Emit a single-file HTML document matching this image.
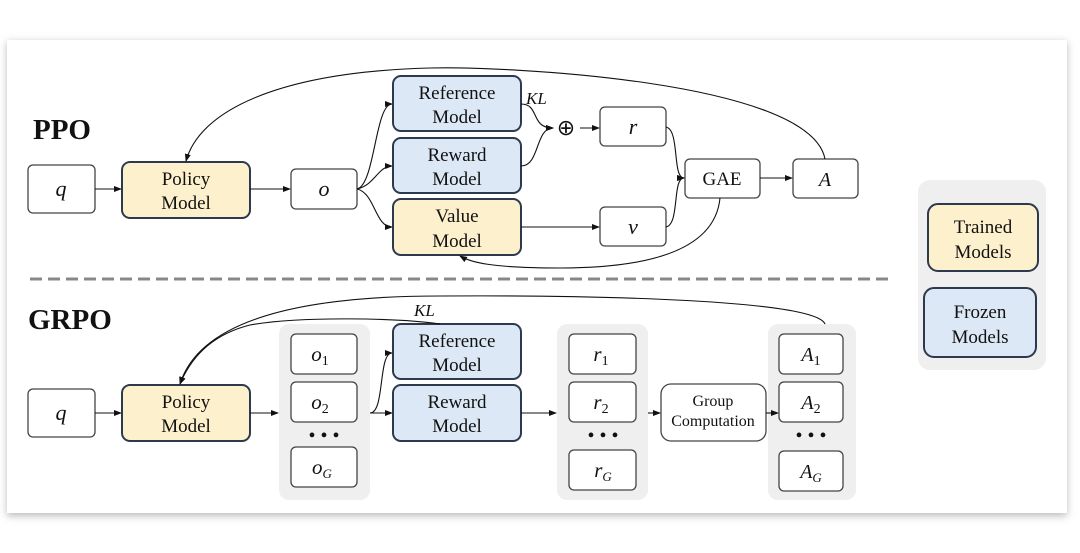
<!DOCTYPE html>
<html><head><meta charset="utf-8"><style>
html,body{margin:0;padding:0;background:#fff;width:1080px;height:553px;overflow:hidden}
svg{display:block}
text{font-family:"Liberation Serif",serif;fill:#111}
.it{font-style:italic}
</style></head><body>
<svg width="1080" height="553" viewBox="0 0 1080 553" xmlns="http://www.w3.org/2000/svg">
<defs>
<filter id="sh" x="-5%" y="-10%" width="110%" height="125%"><feGaussianBlur stdDeviation="4"/></filter>
<marker id="ar" markerWidth="8" markerHeight="8" refX="7" refY="4" orient="auto" markerUnits="userSpaceOnUse"><path d="M0,1 L8,4 L0,7 z" fill="#111"/></marker>
</defs>
<rect x="7" y="42" width="1060" height="474" fill="#bbb" filter="url(#sh)"/>
<rect x="7" y="40" width="1060" height="473" fill="#fff"/>

<!-- PPO -->
<text x="33" y="139" font-size="29" font-weight="bold">PPO</text>
<g stroke="#444" stroke-width="1.3">
<rect x="28" y="165" width="67" height="48" rx="5" fill="#fff"/>
<rect x="122" y="162" width="128" height="56" rx="8" fill="#fdf0cc" stroke="#2d3a4d" stroke-width="2"/>
<rect x="291" y="169" width="66" height="40" rx="5" fill="#fff"/>
<rect x="393" y="76" width="128" height="55" rx="8" fill="#dce8f5" stroke="#2d3a4d" stroke-width="2"/>
<rect x="393" y="138" width="128" height="55" rx="8" fill="#dce8f5" stroke="#2d3a4d" stroke-width="2"/>
<rect x="393" y="199" width="128" height="56" rx="8" fill="#fdf0cc" stroke="#2d3a4d" stroke-width="2"/>
<rect x="600" y="107" width="66" height="39" rx="5" fill="#fff"/>
<rect x="600" y="207" width="66" height="39" rx="5" fill="#fff"/>
<rect x="685" y="159" width="75" height="39" rx="5" fill="#fff"/>
<rect x="793" y="159" width="65" height="39" rx="5" fill="#fff"/>
</g>
<text x="61" y="196" font-size="22" class="it" text-anchor="middle">q</text>
<text x="186" y="185" font-size="19" text-anchor="middle">Policy</text>
<text x="186" y="209" font-size="19" text-anchor="middle">Model</text>
<text x="324" y="196" font-size="22" class="it" text-anchor="middle">o</text>
<text x="457" y="99" font-size="19" text-anchor="middle">Reference</text>
<text x="457" y="123" font-size="19" text-anchor="middle">Model</text>
<text x="457" y="161" font-size="19" text-anchor="middle">Reward</text>
<text x="457" y="185" font-size="19" text-anchor="middle">Model</text>
<text x="457" y="222" font-size="19" text-anchor="middle">Value</text>
<text x="457" y="247" font-size="19" text-anchor="middle">Model</text>
<text x="526" y="104" font-size="17" class="it">KL</text>
<text x="566" y="135" font-size="22" text-anchor="middle">⊕</text>
<text x="633" y="134" font-size="22" class="it" text-anchor="middle">r</text>
<text x="633" y="234" font-size="22" class="it" text-anchor="middle">v</text>
<text x="722" y="185" font-size="19" text-anchor="middle">GAE</text>
<text x="825" y="186" font-size="20" class="it" text-anchor="middle">A</text>
<g fill="none" stroke="#111" stroke-width="1.1" marker-end="url(#ar)">
<path d="M95,189 H121"/>
<path d="M250,189 H290"/>
<path d="M357,189 C375,185 375,104 392,104"/>
<path d="M357,189 C375,185 378,166 392,166"/>
<path d="M357,189 C375,193 375,227 392,227"/>
<path d="M521,104 C540,104 530,128 553,128"/>
<path d="M521,166 C540,166 535,128 553,128"/>
<path d="M580,128 H599"/>
<path d="M521,227 H599"/>
<path d="M666,127 C680,130 672,178 684,178"/>
<path d="M666,227 C680,224 672,178 684,178"/>
<path d="M760,178 H792"/>
<path d="M825,159 C810,80 500,66 430,68 C280,72 200,110 186,161"/>
<path d="M720,198 C715,250 650,268 560,268 C490,268 470,262 460,256"/>
</g>

<!-- divider -->
<line x1="30" y1="279" x2="888" y2="279" stroke="#888" stroke-width="3" stroke-dasharray="12,6"/>

<!-- legend -->
<rect x="918" y="180" width="128" height="190" rx="12" fill="#efefef"/>
<rect x="928" y="204" width="110" height="67" rx="10" fill="#fdf0cc" stroke="#2d3a4d" stroke-width="2"/>
<rect x="924" y="288" width="112" height="69" rx="10" fill="#dce8f5" stroke="#2d3a4d" stroke-width="2"/>
<text x="983" y="233" font-size="19" text-anchor="middle">Trained</text>
<text x="983" y="258" font-size="19" text-anchor="middle">Models</text>
<text x="980" y="318" font-size="19" text-anchor="middle">Frozen</text>
<text x="980" y="343" font-size="19" text-anchor="middle">Models</text>

<!-- GRPO -->
<text x="28" y="329" font-size="29" font-weight="bold">GRPO</text>
<rect x="279" y="324" width="91" height="176" rx="10" fill="#efefef"/>
<rect x="557" y="324" width="91" height="176" rx="10" fill="#efefef"/>
<rect x="768" y="324" width="88" height="176" rx="10" fill="#efefef"/>
<g stroke="#444" stroke-width="1.3">
<rect x="28" y="389" width="67" height="48" rx="5" fill="#fff"/>
<rect x="122" y="385" width="128" height="56" rx="8" fill="#fdf0cc" stroke="#2d3a4d" stroke-width="2"/>
<rect x="291" y="334" width="66" height="40" rx="5" fill="#fff"/>
<rect x="291" y="382" width="66" height="40" rx="5" fill="#fff"/>
<rect x="291" y="447" width="66" height="40" rx="5" fill="#fff"/>
<rect x="393" y="324" width="128" height="55" rx="8" fill="#dce8f5" stroke="#2d3a4d" stroke-width="2"/>
<rect x="393" y="385" width="128" height="56" rx="8" fill="#dce8f5" stroke="#2d3a4d" stroke-width="2"/>
<rect x="569" y="334" width="67" height="40" rx="5" fill="#fff"/>
<rect x="569" y="382" width="67" height="40" rx="5" fill="#fff"/>
<rect x="569" y="450" width="67" height="40" rx="5" fill="#fff"/>
<rect x="661" y="384" width="105" height="57" rx="10" fill="#fff"/>
<rect x="779" y="334" width="64" height="40" rx="5" fill="#fff"/>
<rect x="779" y="382" width="64" height="40" rx="5" fill="#fff"/>
<rect x="779" y="451" width="64" height="40" rx="5" fill="#fff"/>
</g>
<text x="61" y="420" font-size="22" class="it" text-anchor="middle">q</text>
<text x="186" y="408" font-size="19" text-anchor="middle">Policy</text>
<text x="186" y="432" font-size="19" text-anchor="middle">Model</text>
<text x="320" y="361" font-size="21" class="it" text-anchor="middle">o<tspan font-size="14" dy="4" font-style="normal">1</tspan></text>
<text x="320" y="409" font-size="21" class="it" text-anchor="middle">o<tspan font-size="14" dy="4" font-style="normal">2</tspan></text>
<text x="324" y="442" font-size="20" text-anchor="middle">• • •</text>
<text x="322" y="474" font-size="21" class="it" text-anchor="middle">o<tspan font-size="13" dy="4">G</tspan></text>
<text x="457" y="347" font-size="19" text-anchor="middle">Reference</text>
<text x="457" y="371" font-size="19" text-anchor="middle">Model</text>
<text x="457" y="408" font-size="19" text-anchor="middle">Reward</text>
<text x="457" y="432" font-size="19" text-anchor="middle">Model</text>
<text x="414" y="316" font-size="17" class="it">KL</text>
<text x="601" y="361" font-size="21" class="it" text-anchor="middle">r<tspan font-size="14" dy="4" font-style="normal">1</tspan></text>
<text x="601" y="409" font-size="21" class="it" text-anchor="middle">r<tspan font-size="14" dy="4" font-style="normal">2</tspan></text>
<text x="603" y="442" font-size="20" text-anchor="middle">• • •</text>
<text x="603" y="477" font-size="21" class="it" text-anchor="middle">r<tspan font-size="13" dy="4">G</tspan></text>
<text x="713" y="406" font-size="16" text-anchor="middle">Group</text>
<text x="713" y="426" font-size="16" text-anchor="middle">Computation</text>
<text x="811" y="361" font-size="20" class="it" text-anchor="middle">A<tspan font-size="14" dy="4" font-style="normal">1</tspan></text>
<text x="811" y="409" font-size="20" class="it" text-anchor="middle">A<tspan font-size="14" dy="4" font-style="normal">2</tspan></text>
<text x="811" y="442" font-size="20" text-anchor="middle">• • •</text>
<text x="811" y="478" font-size="20" class="it" text-anchor="middle">A<tspan font-size="13" dy="4">G</tspan></text>
<g fill="none" stroke="#111" stroke-width="1.1" marker-end="url(#ar)">
<path d="M95,413 H121"/>
<path d="M250,413 H278"/>
<path d="M370,413 C385,413 378,353 392,353"/>
<path d="M370,413 H392"/>
<path d="M521,413 H556"/>
<path d="M648,413 H660"/>
<path d="M766,413 H778"/>
<path d="M825,324 C815,300 600,295 440,296 C300,296 200,320 180,384"/>
<path d="M440,324 C400,318 300,316 250,325 C210,335 190,360 180,384"/>
</g>
</svg>
</body></html>
